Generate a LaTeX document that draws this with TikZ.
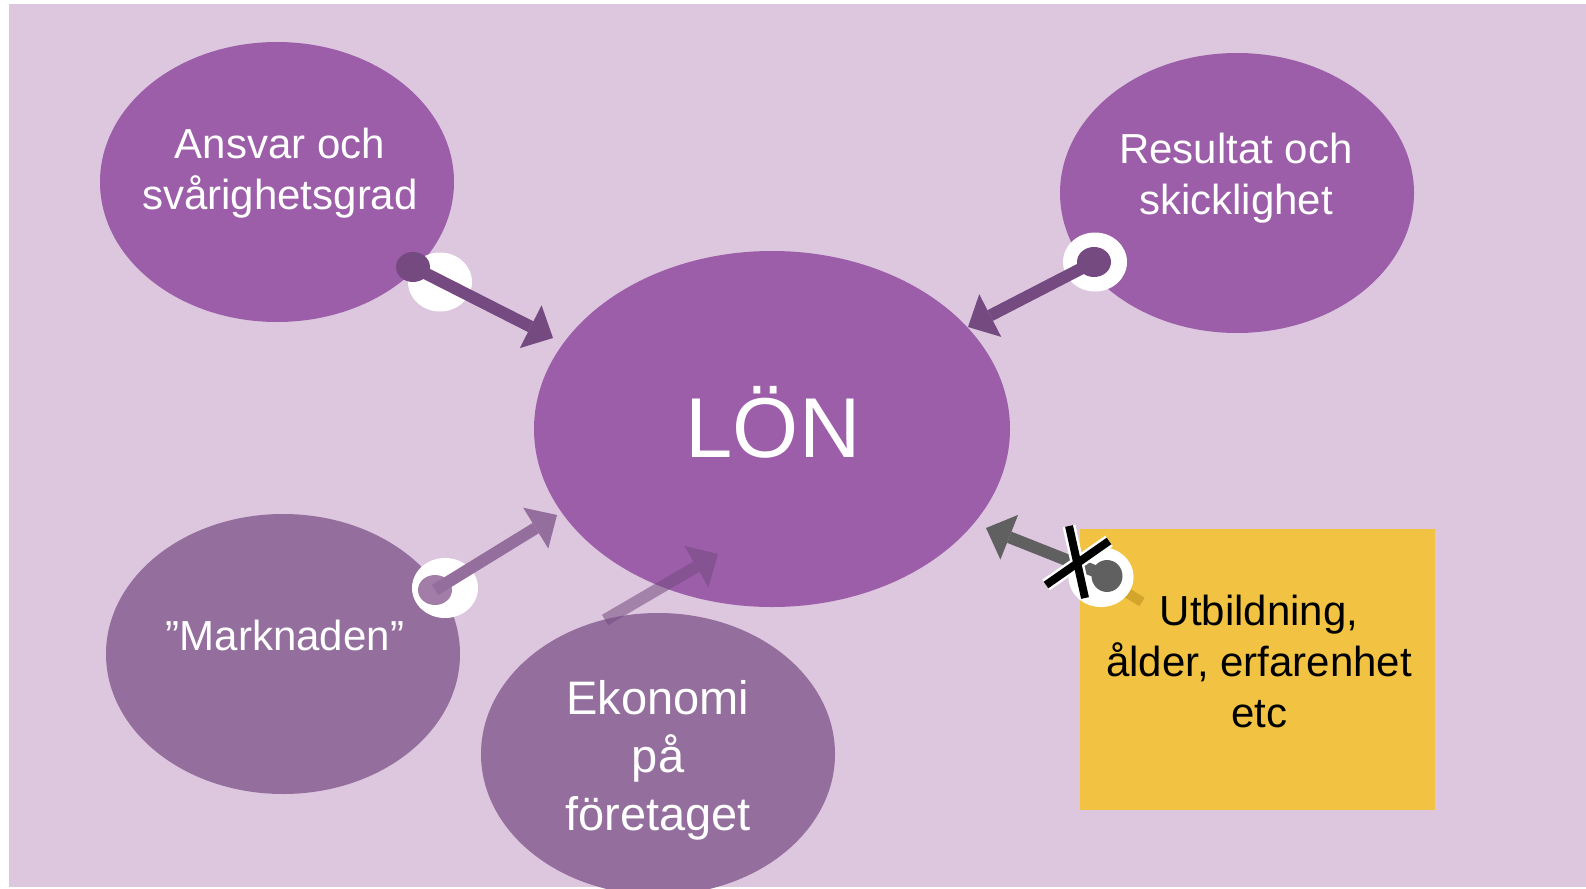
\documentclass[tikz,border=0pt]{standalone}
\usepackage{fontspec}
\setmainfont{Liberation Sans}
\usetikzlibrary{shapes.geometric,arrows.meta}
\definecolor{bgc}{HTML}{DDC7DF}
\definecolor{purp}{HTML}{9C5EA8}
\definecolor{gpurp}{HTML}{946E9C}
\definecolor{darkp}{HTML}{744A80}
\definecolor{dotlight}{HTML}{A27DA8}
\definecolor{yel}{HTML}{F2C343}
\definecolor{dyel}{HTML}{D4A52B}
\definecolor{grayc}{HTML}{606060}
\begin{document}
\begin{tikzpicture}[x=1pt,y=-1pt,
  blob/.style={ellipse,inner sep=0pt,minimum width=354pt,minimum height=280pt,fill=#1},
  ring/.style={ellipse,inner sep=0pt,minimum width=64pt,minimum height=59pt,fill=white},
  knob/.style={ellipse,inner sep=0pt,minimum width=34pt,minimum height=30pt,fill=#1},
  arr/.style={line width=12pt,draw=#1,-{Triangle[length=25pt 0 0,width=48pt 0 0,line width=0pt]}},
  wtext/.style={text=white,align=center,inner sep=0pt,font=\fontsize{42}{50.5}\selectfont},
  btext/.style={text=black,align=center,inner sep=0pt,font=\fontsize{42}{51}\selectfont}]
\useasboundingbox (0,0) rectangle (1586,888);
\fill[bgc] (9,4) rectangle (1586,887);
% ellipses
\node[blob=purp] (ansvar) at (277,182) {};
\node[blob=purp] (result) at (1237,193) {};
\node[blob=purp,minimum width=476pt,minimum height=356pt] (lon) at (772,429) {};
\node[blob=gpurp] (markn) at (283,654) {};
\node[blob=gpurp,minimum height=282pt] (ekon) at (658,754) {};
\node[rectangle,fill=yel,inner sep=0pt,minimum width=355pt,minimum height=281pt] (utb) at (1257.5,669.5) {};
% rings and knobs
\node[ring] (r1) at (440,282) {};
\node[knob=darkp] (k1) at (413,267) {};
\node[ring] (r2) at (1095,262) {};
\node[knob=darkp] (k2) at (1094,262) {};
\node[ring,minimum width=66pt,minimum height=60pt] (r3) at (445,588) {};
\node[knob=dotlight] (k3) at (435,590) {};
\draw[dyel,line width=10pt] (1116,586) -- (1142,602);
\node[ring,minimum width=65pt,minimum height=60pt] (r5) at (1101,577) {};
\node[knob=grayc,minimum width=31pt,minimum height=32pt] (k5) at (1107,576) {};
% tips
\coordinate (t1) at (553,338);
\coordinate (t2) at (968,327);
\coordinate (t3) at (557,515);
\coordinate (e0) at (605,620);
\coordinate (t4) at (718,554);
\coordinate (t5) at (986,528);
% arrows
\draw[arr=darkp] (k1.center) -- (t1);
\draw[arr=darkp] (k2.center) -- (t2);
\draw[arr=gpurp] (k3.center) -- (t3);
\begin{scope}[transparency group,opacity=0.55]
\draw[arr=darkp] (e0) -- (t4);
\end{scope}
\draw[arr=grayc] (k5.center) -- (t5);
% X mark
\draw[white,line width=13pt] (1069,526) -- (1085,598);
\draw[white,line width=13pt] (1046,585) -- (1109,541);
\draw[black,line width=8pt] (1069,526) -- (1085,598);
\draw[black,line width=8pt] (1046,585) -- (1109,541);
% texts
\node[wtext] (tansvar) at (280,173) {Ansvar och\\svårighetsgrad};
\node[wtext] (tresult) at (1236,178) {Resultat och\\skicklighet};
\node[wtext,font=\fontsize{85}{100}\selectfont] (tlon) at (773,422) {LÖN};
\node[wtext] (tmarkn) at (285,635) {”Marknaden”};
\node[wtext,font=\fontsize{47}{58}\selectfont] (tekon) at (658,760) {Ekonomi\\på\\företaget};
\node[btext] (tutb) at (1259,661) {Utbildning,\\ålder, erfarenhet\\etc};
\end{tikzpicture}
\end{document}
